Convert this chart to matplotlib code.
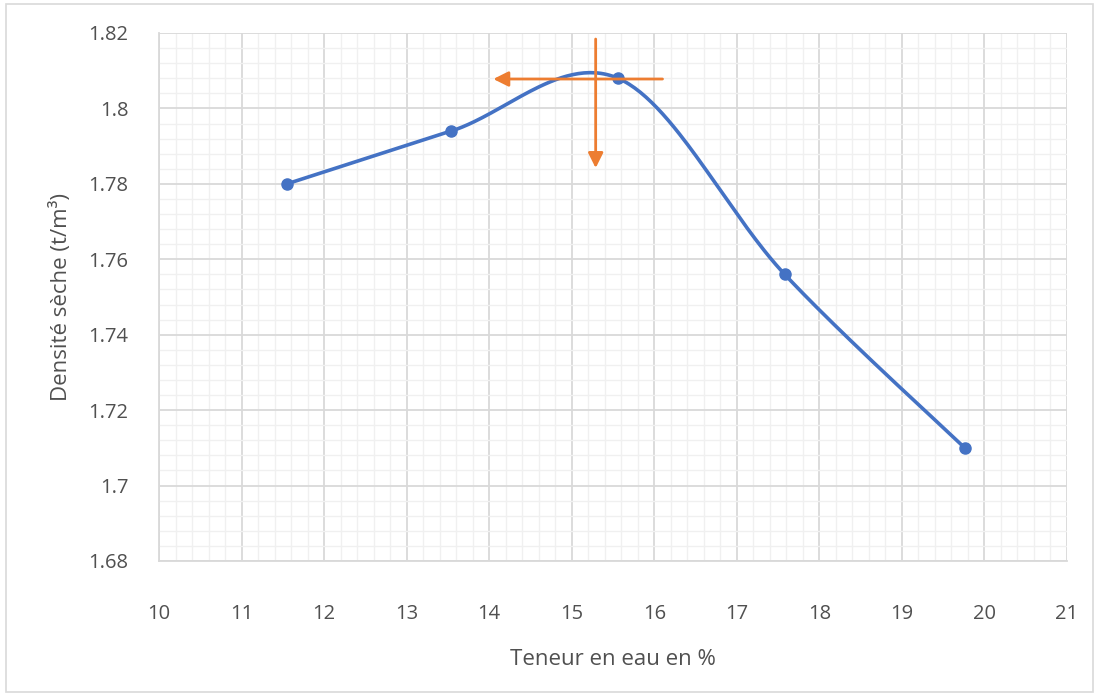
import numpy as np
import matplotlib
matplotlib.use("Agg")
import matplotlib.pyplot as plt
from matplotlib.patches import Rectangle

# Data
teneur_eau = [11.55, 13.54, 15.56, 17.58, 19.76]
densite_seche = [1.780, 1.794, 1.808, 1.756, 1.710]
x_ticks = [10, 11, 12, 13, 14, 15, 16, 17, 18, 19, 20, 21]
y_ticks = [1.68, 1.70, 1.72, 1.74, 1.76, 1.78, 1.80, 1.82]
y_tick_labels = ["1.68", "1.7", "1.72", "1.74", "1.76", "1.78", "1.8", "1.82"]
# optimum arrows (horizontal: y, x_start, x_end ; vertical: x, y_start, y_end)
h_arrow = [1.8078, 16.10, 14.05]
v_arrow = [15.29, 1.8184, 1.7842]

BLUE = "#4472C4"
ORANGE = "#ED7D31"
TXT = "#505050"

plt.rcParams['font.family'] = ['Open Sans', 'DejaVu Sans']

fig = plt.figure(figsize=(10.99, 6.96), dpi=100)
ax = fig.add_axes([159/1099, 1-561/696, 908/1099, 528/696])

# Excel-like smoothed line (cardinal Bezier)
x = np.array(teneur_eau); y = np.array(densite_seche)
px = np.concatenate([[x[0]], x, [x[-1]]]); py = np.concatenate([[y[0]], y, [y[-1]]])
cx, cy = [], []
t = np.linspace(0, 1, 60)
for i in range(1, len(px)-2):
    p0 = np.array([px[i], py[i]]); p3 = np.array([px[i+1], py[i+1]])
    p1 = p0 + (np.array([px[i+1], py[i+1]]) - np.array([px[i-1], py[i-1]]))/6
    p2 = p3 - (np.array([px[i+2], py[i+2]]) - np.array([px[i], py[i]]))/6
    b = ((1-t)**3)[:, None]*p0 + (3*(1-t)**2*t)[:, None]*p1 + (3*(1-t)*t**2)[:, None]*p2 + (t**3)[:, None]*p3
    cx.extend(b[:, 0]); cy.extend(b[:, 1])
ax.plot(cx, cy, color=BLUE, lw=2.6, zorder=3, solid_capstyle='round')
ax.plot(x, y, 'o', color=BLUE, ms=8, zorder=4)

# arrows
ax.annotate("", xy=(h_arrow[2], h_arrow[0]), xytext=(h_arrow[1], h_arrow[0]),
            arrowprops=dict(arrowstyle="-|>,head_length=0.9,head_width=0.45", color=ORANGE, lw=2, shrinkA=0, shrinkB=0), zorder=5)
ax.annotate("", xy=(v_arrow[0], v_arrow[2]), xytext=(v_arrow[0], v_arrow[1]),
            arrowprops=dict(arrowstyle="-|>,head_length=0.9,head_width=0.45", color=ORANGE, lw=2, shrinkA=0, shrinkB=0), zorder=5)

ax.set_xlim(10, 21)
ax.set_ylim(1.68, 1.82)
ax.set_xticks(x_ticks)
ax.set_xticklabels([str(v) for v in x_ticks])
ax.set_yticks(y_ticks)
ax.set_yticklabels(y_tick_labels)
ax.set_xticks(np.arange(10, 21.001, 0.2), minor=True)
ax.set_yticks(np.arange(1.68, 1.8201, 0.004), minor=True)
ax.grid(which='major', color='#d9d9d9', lw=1.3)
ax.grid(which='minor', color='#f0f0f0', lw=1.0)
ax.set_axisbelow(True)
ax.tick_params(which='both', length=0)
ax.tick_params(axis='x', pad=31, labelsize=14.5, labelcolor=TXT)
ax.tick_params(axis='y', pad=22, labelsize=14.5, labelcolor=TXT)
for s in ['top', 'right']:
    ax.spines[s].set_visible(False)
for s in ['left', 'bottom']:
    ax.spines[s].set_color('#d9d9d9'); ax.spines[s].set_linewidth(1.3)

ax.set_xlabel("Teneur en eau en %", fontsize=16, color=TXT, labelpad=18)
ax.set_ylabel("Densité sèche (t/m³)", fontsize=16, color=TXT, labelpad=12)

fig.patches.append(Rectangle((6/1099, 4/696), 1087/1099, 688/696, transform=fig.transFigure,
                             fill=False, edgecolor='#d9d9d9', lw=1.2))
fig.savefig("out.png", dpi=100)
